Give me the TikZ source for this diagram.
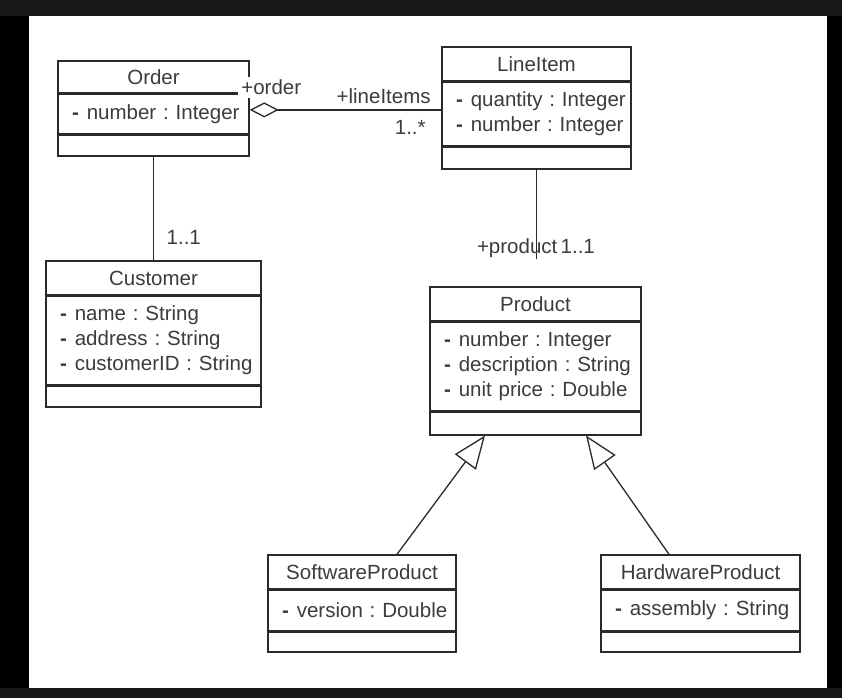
\documentclass[tikz,border=0pt]{standalone}
\usepackage{fontspec}
\setmainfont{Liberation Sans}
\usetikzlibrary{positioning,arrows.meta}

\definecolor{umlline}{HTML}{2A2A2A}
\definecolor{umltext}{HTML}{3C3C3C}
\definecolor{frameband}{HTML}{181818}

% one private attribute line
\newcommand{\attr}[1]{\mbox{\textbf{-}\hspace{8pt}#1}}

\tikzset{
  classname/.style={draw=umlline, line width=1.4pt, inner sep=0pt, text=umltext, minimum height=34pt},
  attrs/.style={draw=umlline, line width=1.4pt, inner xsep=14pt, inner ysep=0pt, align=left, text=umltext},
  ops/.style={draw=umlline, line width=1.4pt, inner sep=0pt},
  assoc/.style={draw=umlline, line width=1.3pt},
  aggr/.style={assoc, -{Diamond[open,length=29pt,width=15pt]}},
  gener/.style={assoc, -{Triangle[open,length=33pt,width=26pt]}},
  role/.style={inner sep=1pt, text=umltext}
}

\begin{document}
\begin{tikzpicture}[x=1pt,y=-1pt,font=\fontsize{20.5pt}{25pt}\selectfont\frenchspacing]
% frame
\fill[black] (0,0) rectangle (842,698);
\fill[frameband] (0,0) rectangle (842,16);
\fill[frameband] (0,688) rectangle (842,698);
\fill[white] (29,16) rectangle (827,688);

% Order
\node[classname, minimum width=191pt, minimum height=32pt] (order) at (153.5,77) {Order};
\node[attrs, text width=163pt, minimum height=39pt, below=0pt of order] (orderA) {\attr{number : Integer}};
\node[ops, minimum width=191pt, minimum height=21pt, below=0pt of orderA] (orderO) {};

% LineItem
\node[classname, minimum width=189pt] (line) at (536.5,64) {LineItem};
\node[attrs, text width=161pt, minimum height=63pt, below=0pt of line] (lineA) {\attr{quantity : Integer}\\ \attr{number : Integer}};
\node[ops, minimum width=189pt, minimum height=22pt, below=0pt of lineA] (lineO) {};

% Customer
\node[classname, minimum width=215pt] (cust) at (153.5,278) {Customer};
\node[attrs, text width=187pt, minimum height=88pt, below=0pt of cust] (custA) {\attr{name : String}\\ \attr{address : String}\\ \attr{customerID : String}};
\node[ops, minimum width=215pt, minimum height=21pt, below=0pt of custA] (custO) {};

% Product
\node[classname, minimum width=211pt] (prod) at (535.5,304) {Product};
\node[attrs, text width=183pt, minimum height=88pt, below=0pt of prod] (prodA) {\attr{number : Integer}\\ \attr{description : String}\\ \attr{unit price : Double}};
\node[ops, minimum width=211pt, minimum height=23pt, below=0pt of prodA] (prodO) {};

% SoftwareProduct
\node[classname, minimum width=188pt] (sw) at (362,572) {SoftwareProduct};
\node[attrs, text width=160pt, minimum height=40pt, below=0pt of sw] (swA) {\attr{version : Double}};
\node[ops, minimum width=188pt, minimum height=20pt, below=0pt of swA] (swO) {};

% HardwareProduct
\node[classname, minimum width=199pt] (hw) at (700.5,572) {HardwareProduct};
\node[attrs, text width=171pt, minimum height=40pt, below=0pt of hw] (hwA) {\attr{assembly : String}};
\node[ops, minimum width=199pt, minimum height=20pt, below=0pt of hwA] (hwO) {};

% associations
\draw[aggr] ([yshift=4pt]lineA.west) --
  node[role, pos=0, anchor=base east, xshift=-9pt, yshift=6.5pt] {+lineItems}
  node[role, pos=0, anchor=base east, xshift=-14pt, yshift=-24.5pt] {1..*}
  node[role, pos=1, anchor=base west, inner sep=3pt, fill=white, xshift=-12pt, yshift=15.5pt] {+order}
  ([yshift=4pt]orderA.east);
\draw[assoc] (orderO.south) --
  node[role, pos=1, anchor=base west, xshift=11.5pt, yshift=16pt] {1..1}
  (cust.north);
\draw[assoc, shorten >=27pt] (lineO.south) --
  node[role, pos=1, anchor=base east, xshift=22.5pt, yshift=33pt] {+product}
  node[role, pos=1, anchor=base west, xshift=22.5pt, yshift=33pt] {1..1}
  (lineO.south |- prod.north);

% generalizations
\draw[gener] ([xshift=35pt]sw.north) -- ([xshift=-50.5pt]prodO.south);
\draw[gener] ([xshift=-31.5pt]hw.north) -- ([xshift=50.5pt]prodO.south);
\end{tikzpicture}
\end{document}
